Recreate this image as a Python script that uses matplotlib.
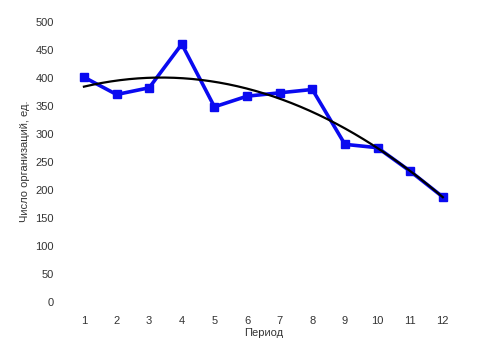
import matplotlib
matplotlib.use("Agg")
import matplotlib.pyplot as plt
import numpy as np

periods = [1, 2, 3, 4, 5, 6, 7, 8, 9, 10, 11, 12]
counts = [401, 370, 382, 460, 348, 367, 373, 379, 281, 275, 233, 187]
yticks = [0, 50, 100, 150, 200, 250, 300, 350, 400, 450, 500]

plt.rcParams['font.family'] = ['Liberation Sans', 'DejaVu Sans']

fig = plt.figure(figsize=(4.9, 3.5), dpi=100)
ax = fig.add_axes([0.138, 0.138, 0.799, 0.800])

x = np.array(periods)
y = np.array(counts)
coef = np.polyfit(x, y, 2)
xs = np.linspace(1, 12, 200)
ax.plot(x, y, color='#0a0af0', lw=2.6, marker='s', ms=5.5, zorder=2)
ax.plot(xs, np.polyval(coef, xs), color='black', lw=1.6, zorder=3)

ax.set_xlim(0.5, 12.5)
ax.set_ylim(0, 500)
ax.set_xticks(periods)
ax.set_xticklabels([str(p) for p in periods])
ax.set_yticks(yticks)
for s in ax.spines.values():
    s.set_visible(False)
ax.tick_params(length=0, labelsize=8, colors='#333333', pad=10)
ax.tick_params(axis='x', pad=10)
ax.set_xlabel('Период', fontsize=8, color='#333333', labelpad=2)
ax.set_ylabel('Число организаций, ед.', fontsize=8, color='#333333', labelpad=4)

fig.savefig('out.png', dpi=100, facecolor='white')
